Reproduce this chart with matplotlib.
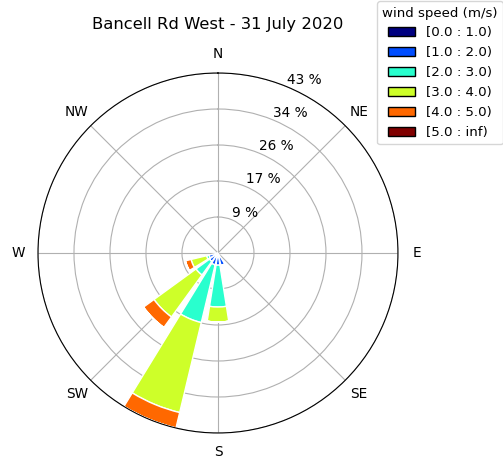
import numpy as np
import matplotlib
matplotlib.use("Agg")
import matplotlib.pyplot as plt
from matplotlib.patches import Patch

# Wind directions (16 compass sectors)
directions = ["N", "NNE", "NE", "ENE", "E", "ESE", "SE", "SSE",
              "S", "SSW", "SW", "WSW", "W", "WNW", "NW", "NNW"]

# Frequency (%) of each speed class per direction
freq_0_1 = [0, 0, 0, 0, 0, 0, 0, 0.2, 0.3, 0.3, 0.2, 0.2, 0, 0, 0, 0]
freq_1_2 = [0, 0, 0, 0, 0, 0, 0, 2.9, 2.6, 2.6, 2.3, 2.0, 0, 0, 0, 0]
freq_2_3 = [0, 0, 0, 0, 0, 0, 0, 0, 10.0, 14.2, 4.0, 0.6, 0, 0, 0, 0]
freq_3_4 = [0, 0, 0, 0, 0, 0, 0, 0, 3.6, 22.1, 12.4, 3.8, 0, 0, 0, 0]
freq_4_5 = [0, 0, 0, 0, 0, 0, 0, 0, 0, 3.8, 3.1, 1.4, 0, 0, 0, 0]
freq_5_inf = [0] * 16

speed_labels = ["[0.0 : 1.0)", "[1.0 : 2.0)", "[2.0 : 3.0)",
                "[3.0 : 4.0)", "[4.0 : 5.0)", "[5.0 : inf)"]
title = "Bancell Rd West - 31 July 2020"
compass_labels = ["N", "NE", "E", "SE", "S", "SW", "W", "NW"]

table = np.array([freq_0_1, freq_1_2, freq_2_3, freq_3_4, freq_4_5, freq_5_inf])
colors = plt.cm.jet(np.linspace(0, 1, len(speed_labels)))

fig = plt.figure(figsize=(5.03, 4.58), dpi=100)
ax = fig.add_axes([0.0755, 0.0546, 0.7157, 0.786], projection="polar")
ax.set_theta_zero_location("N")
ax.set_theta_direction(-1)

nsector = len(directions)
theta = np.deg2rad(np.arange(nsector) * 360.0 / nsector)
width = 2 * np.pi / nsector * 0.8

offset = np.zeros(nsector)
for i in range(len(speed_labels)):
    vals = table[i]
    ax.bar(theta, vals, width=width, bottom=offset, color=colors[i],
           edgecolor="white", linewidth=1.0, zorder=2)
    offset = offset + vals

rmax = table.sum(axis=0).max()
ax.set_ylim(0, rmax)
radii = np.linspace(0, rmax, 6)[1:]
ax.set_rgrids(radii, labels=["%.0f %%" % r for r in radii], angle=22.5,
              fontsize=9.85)
ax.set_thetagrids(np.arange(0, 360, 45), labels=compass_labels, fontsize=9.85)
ax.grid(True, color="#b0b0b0", linewidth=0.8, zorder=0)
ax.set_axisbelow(True)
ax.set_title(title, fontsize=11.8, pad=32)

handles = [Patch(facecolor=c, edgecolor="black") for c in colors]
fig.legend(handles, speed_labels, title="wind speed (m/s)",
           loc="upper left", bbox_to_anchor=(0.736, 1.012),
           bbox_transform=fig.transFigure, fontsize=9.6, title_fontsize=9.6,
           labelspacing=0.52)

fig.savefig("out.png", dpi=100)
